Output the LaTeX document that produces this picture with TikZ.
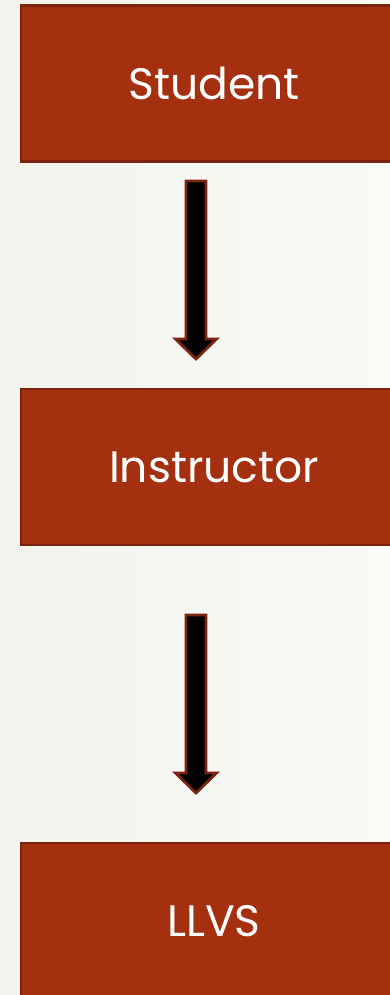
\documentclass[tikz,border=0pt]{standalone}
\usepackage{fontspec}
\setmainfont{Poppins}
\usetikzlibrary{calc}
\definecolor{boxfill}{HTML}{A53010}
\definecolor{boxedge}{HTML}{7A2410}
\definecolor{bgleft}{HTML}{F1F3EC}
\definecolor{bgright}{HTML}{FAFAF7}
\tikzset{
  box/.style={rectangle, draw=boxedge, line width=2.5pt, fill=boxfill, text=white,
    font=\fontsize{44}{52}\selectfont, minimum width=386pt, minimum height=156pt, inner sep=0pt},
  blockarrow/.style={draw=boxedge, line width=2.8pt, fill=black, line join=miter}
}
\begin{document}
\begin{tikzpicture}[x=1pt,y=-1pt]
\useasboundingbox (0,0) rectangle (390,995);
\shade[left color=bgleft, right color=bgright] (0,0) rectangle (390,995);
\clip (0,0) rectangle (390,995);
\node[box] (student) at (214,83.5) {Student};
\node[box] (instructor) at (214,467) {Instructor};
\node[box] (llvs) at (214,921) {LLVS};
\coordinate (t1) at (196,181);
\coordinate (h1) at (196,359);
\coordinate (t2) at (196,615);
\coordinate (h2) at (196,793);
\foreach \t/\h in {t1/h1,t2/h2}{
  \draw[blockarrow] ($(\t)+(-10,0)$) -- ($(\t)+(10,0)$) -- ($(\h)+(10,-20)$)
    -- ($(\h)+(20.5,-20)$) -- (\h) -- ($(\h)+(-20.5,-20)$) -- ($(\h)+(-10,-20)$) -- cycle;
}
\end{tikzpicture}
\end{document}
